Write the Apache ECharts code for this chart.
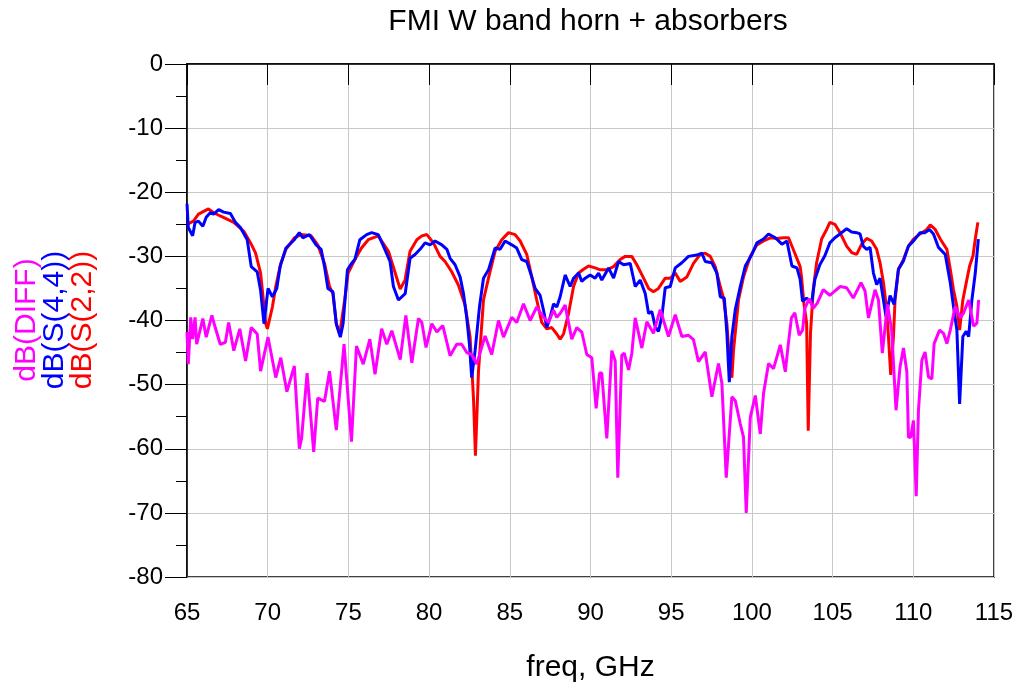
<!DOCTYPE html>
<html><head><meta charset="utf-8">
<script src="https://cdn.jsdelivr.net/npm/echarts@6/dist/echarts.min.js"></script>
<style>html,body{margin:0;padding:0;background:#fff}#c{width:1022px;height:688px}</style>
</head><body><div id="c"></div>
<script>
const chartTitle = 'FMI W band horn + absorbers';
const xAxisName = 'freq, GHz';
const yAxisNames = ['dB(DIFF)', 'dB(S(4,4))', 'dB(S(2,2))'];
const seriesColors = ['#ff00ff', '#0000ff', '#ff0000'];

// [freq GHz, dB]
const s22 = [[65.0,-25.0],[65.4,-24.5],[65.71,-23.4],[66.33,-22.6],[66.65,-23.2],[67.06,-23.7],[67.9,-24.7],[68.52,-26.1],[68.94,-27.9],[69.25,-29.5],[69.56,-32.6],[69.88,-40.5],[69.98,-41.3],[70.29,-37.9],[70.5,-34.7],[70.81,-31.1],[71.13,-28.9],[71.65,-27.1],[72.06,-26.6],[72.69,-26.8],[73.1,-28.2],[73.52,-31.1],[73.83,-34.7],[74.04,-35.8],[74.25,-40.5],[74.46,-42.1],[74.77,-36.8],[74.98,-32.6],[75.4,-30.5],[75.81,-28.7],[76.23,-27.4],[76.85,-26.8],[77.48,-29.2],[77.9,-32.6],[78.21,-35.1],[78.51,-33.7],[78.82,-29.2],[79.24,-27.4],[79.55,-26.8],[79.86,-26.6],[80.27,-27.9],[80.68,-30.0],[80.99,-30.8],[81.4,-32.4],[81.82,-34.5],[82.23,-37.6],[82.54,-42.6],[82.75,-52.1],[82.87,-61.1],[83.06,-47.9],[83.37,-36.8],[83.68,-33.4],[84.09,-29.2],[84.5,-27.4],[84.92,-26.3],[85.33,-26.6],[85.64,-27.6],[86.05,-29.7],[86.36,-33.2],[86.67,-36.8],[86.98,-40.3],[87.29,-41.3],[87.6,-41.1],[87.91,-42.1],[88.12,-42.9],[88.33,-42.1],[88.64,-38.9],[88.95,-34.7],[89.26,-32.6],[89.57,-32.0],[89.88,-31.5],[90.29,-31.8],[90.6,-32.1],[91.01,-32.1],[91.43,-31.6],[91.84,-30.5],[92.15,-30.0],[92.56,-30.0],[92.87,-31.3],[93.29,-33.4],[93.6,-35.0],[93.9,-35.5],[94.21,-35.0],[94.63,-33.4],[94.94,-33.4],[95.25,-32.6],[95.56,-33.9],[95.97,-33.2],[96.38,-31.1],[96.8,-29.7],[97.11,-29.5],[97.42,-30.0],[97.73,-31.6],[98.04,-34.7],[98.24,-36.5],[98.45,-40.5],[98.66,-47.9],[98.76,-48.9],[98.86,-44.7],[99.17,-36.8],[99.48,-33.2],[99.9,-30.0],[100.31,-28.2],[100.72,-27.6],[101.14,-27.1],[101.55,-27.2],[101.96,-27.1],[102.27,-27.1],[102.69,-29.7],[102.99,-31.6],[103.07,-33.1],[103.22,-37.3],[103.39,-40.4],[103.49,-57.2],[103.63,-42.0],[103.8,-35.2],[104.01,-31.0],[104.32,-27.3],[104.63,-25.8],[104.83,-24.7],[105.14,-25.0],[105.46,-26.3],[105.87,-28.4],[106.18,-29.4],[106.49,-29.7],[106.8,-28.1],[107.11,-27.2],[107.42,-27.6],[107.73,-28.9],[107.94,-31.0],[108.15,-34.1],[108.35,-38.3],[108.46,-42.5],[108.6,-48.5],[108.77,-42.5],[108.87,-36.8],[109.08,-32.0],[109.39,-30.5],[109.7,-28.4],[110.01,-27.3],[110.42,-26.5],[110.84,-25.8],[111.05,-25.1],[111.36,-25.8],[111.67,-27.3],[112.08,-28.9],[112.29,-32.0],[112.49,-35.2],[112.7,-37.8],[112.87,-41.5],[113.07,-36.8],[113.28,-34.1],[113.49,-31.5],[113.7,-29.9],[113.84,-27.3],[114.0,-24.7]];

const s44 = [[65.0,-21.8],[65.08,-25.5],[65.35,-26.8],[65.5,-24.7],[65.71,-24.5],[65.98,-25.3],[66.19,-23.9],[66.44,-23.2],[66.65,-23.4],[66.96,-22.7],[67.27,-23.1],[67.69,-23.3],[68.0,-24.7],[68.31,-25.5],[68.73,-27.4],[68.98,-31.6],[69.35,-32.4],[69.56,-35.3],[69.77,-40.5],[69.88,-40.8],[70.02,-35.0],[70.29,-36.3],[70.56,-35.0],[70.77,-31.6],[71.13,-28.7],[71.65,-27.4],[71.96,-26.3],[72.17,-27.1],[72.58,-26.6],[73.0,-28.2],[73.31,-28.9],[73.52,-31.6],[73.73,-35.0],[74.04,-35.5],[74.25,-40.5],[74.5,-42.6],[74.67,-40.5],[74.94,-32.1],[75.19,-31.1],[75.4,-30.5],[75.71,-27.4],[76.13,-26.6],[76.44,-26.3],[76.85,-26.6],[77.17,-28.4],[77.58,-30.8],[77.79,-34.7],[78.1,-36.8],[78.52,-35.8],[78.82,-30.3],[79.13,-29.7],[79.44,-28.9],[79.75,-27.9],[80.06,-28.2],[80.37,-27.6],[80.79,-28.2],[81.1,-28.9],[81.3,-30.3],[81.61,-31.3],[81.92,-33.2],[82.13,-35.8],[82.33,-39.5],[82.5,-43.7],[82.64,-48.9],[82.85,-44.7],[83.12,-37.9],[83.37,-33.4],[83.68,-32.1],[84.09,-28.7],[84.4,-28.9],[84.71,-27.6],[85.12,-28.2],[85.43,-28.7],[85.74,-30.5],[86.05,-30.8],[86.36,-33.2],[86.57,-35.0],[86.88,-36.1],[87.09,-38.4],[87.29,-41.1],[87.5,-39.5],[87.71,-37.4],[87.91,-37.9],[88.12,-36.3],[88.43,-32.9],[88.74,-34.7],[88.95,-33.4],[89.26,-32.6],[89.46,-33.9],[89.67,-33.4],[89.98,-32.9],[90.29,-33.4],[90.5,-32.6],[90.7,-33.7],[91.12,-31.8],[91.43,-33.4],[91.74,-30.8],[92.05,-31.3],[92.46,-31.1],[92.77,-34.7],[93.08,-33.7],[93.39,-35.8],[93.6,-38.9],[93.8,-38.6],[94.01,-41.0],[94.21,-41.7],[94.42,-39.4],[94.63,-34.9],[94.94,-34.7],[95.25,-31.8],[95.66,-31.0],[96.07,-30.0],[96.59,-29.8],[96.9,-29.5],[97.11,-30.8],[97.52,-31.0],[97.83,-32.6],[98.04,-36.3],[98.29,-36.5],[98.45,-42.0],[98.6,-49.6],[98.76,-42.5],[98.97,-38.3],[99.28,-34.7],[99.59,-31.5],[100.0,-29.7],[100.31,-27.9],[100.72,-27.3],[101.03,-26.5],[101.45,-27.1],[101.86,-28.1],[102.17,-27.6],[102.48,-31.5],[102.79,-31.8],[102.99,-33.6],[103.14,-37.0],[103.39,-36.5],[103.7,-37.3],[103.9,-33.6],[104.21,-31.3],[104.52,-29.9],[104.83,-27.9],[105.14,-27.1],[105.46,-26.5],[105.87,-25.7],[106.18,-26.2],[106.49,-26.3],[106.7,-26.5],[106.9,-28.4],[107.11,-28.9],[107.32,-28.6],[107.53,-32.6],[107.73,-34.4],[107.94,-33.4],[108.15,-36.8],[108.31,-39.4],[108.56,-36.1],[108.81,-37.5],[109.08,-32.0],[109.39,-30.7],[109.7,-28.4],[110.01,-27.6],[110.42,-26.3],[110.73,-26.3],[111.0,-25.8],[111.25,-26.5],[111.56,-28.6],[111.98,-29.7],[112.29,-34.1],[112.49,-37.8],[112.7,-41.5],[112.87,-53.0],[113.07,-42.5],[113.28,-41.7],[113.43,-42.5],[113.63,-36.8],[113.84,-32.6],[114.03,-27.3]];

const diff = [[65.0,-41.8],[65.08,-46.8],[65.23,-39.5],[65.35,-42.9],[65.5,-39.5],[65.6,-43.7],[65.98,-39.7],[66.19,-42.6],[66.54,-39.2],[66.75,-41.1],[67.06,-43.7],[67.38,-43.4],[67.58,-40.3],[67.9,-44.7],[68.27,-41.3],[68.63,-46.3],[68.98,-41.1],[69.35,-42.1],[69.56,-47.9],[70.02,-42.6],[70.5,-48.9],[70.81,-45.8],[71.19,-51.1],[71.65,-47.1],[71.96,-60.0],[72.1,-58.4],[72.44,-48.2],[72.85,-60.5],[73.1,-52.1],[73.52,-52.6],[73.83,-47.9],[74.25,-57.1],[74.73,-43.7],[75.19,-58.9],[75.5,-44.0],[75.92,-46.8],[76.33,-42.9],[76.65,-48.4],[77.06,-41.3],[77.38,-43.7],[77.69,-41.6],[78.21,-46.1],[78.56,-39.2],[78.93,-46.6],[79.34,-39.7],[79.55,-40.3],[79.81,-44.2],[80.17,-40.5],[80.48,-41.8],[80.85,-40.8],[81.3,-45.5],[81.71,-43.7],[82.02,-43.7],[82.33,-45.0],[82.64,-45.3],[82.95,-46.8],[83.47,-42.4],[83.88,-45.3],[84.3,-40.0],[84.61,-42.6],[85.12,-39.5],[85.43,-40.3],[85.85,-37.4],[86.26,-40.0],[86.67,-37.9],[87.09,-39.5],[87.4,-40.3],[87.71,-38.4],[87.91,-39.5],[88.12,-38.9],[88.43,-37.6],[88.84,-42.9],[89.15,-41.1],[89.46,-41.8],[89.77,-45.3],[90.08,-45.8],[90.35,-53.7],[90.56,-48.2],[90.7,-48.2],[91.01,-58.4],[91.32,-44.7],[91.53,-46.3],[91.69,-64.5],[91.94,-45.4],[92.09,-45.1],[92.36,-47.7],[92.56,-45.1],[92.77,-39.6],[93.18,-44.3],[93.49,-40.2],[93.9,-42.0],[94.32,-38.3],[94.83,-42.5],[95.25,-39.1],[95.66,-42.5],[96.07,-42.3],[96.38,-43.0],[96.69,-46.4],[97.11,-44.9],[97.52,-51.9],[97.93,-46.7],[98.14,-49.8],[98.41,-64.5],[98.76,-51.9],[98.97,-52.5],[99.28,-56.1],[99.48,-58.2],[99.65,-70.0],[99.9,-55.1],[100.21,-51.7],[100.52,-57.7],[100.72,-51.4],[101.03,-46.7],[101.34,-47.5],[101.76,-43.8],[102.07,-48.0],[102.25,-43.8],[102.45,-39.6],[102.66,-38.8],[102.93,-42.3],[103.14,-41.5],[103.28,-38.1],[103.55,-36.6],[103.8,-38.1],[104.05,-37.3],[104.42,-35.2],[104.83,-36.1],[105.14,-35.4],[105.46,-34.7],[105.87,-34.9],[106.28,-36.5],[106.76,-34.1],[107.01,-35.4],[107.22,-39.6],[107.63,-35.2],[107.84,-36.8],[108.08,-45.1],[108.4,-37.5],[108.66,-41.5],[108.93,-54.0],[109.18,-47.2],[109.39,-44.3],[109.6,-48.0],[109.7,-58.2],[109.84,-58.2],[110.01,-55.6],[110.18,-67.4],[110.32,-54.0],[110.53,-46.2],[110.73,-44.9],[110.94,-48.8],[111.15,-49.1],[111.29,-43.6],[111.63,-41.5],[111.87,-42.0],[112.08,-43.6],[112.29,-41.5],[112.6,-37.8],[112.91,-39.6],[113.12,-38.8],[113.43,-36.8],[113.74,-40.9],[113.94,-40.4],[114.05,-36.8]];

const FONT = '"Liberation Sans", Arial, sans-serif';
const chart = echarts.init(document.getElementById('c'), null, {renderer: 'canvas'});

const yLabelX = [27, 55, 83];
const graphics = [{
  type: 'text', x: 588, y: 22,
  style: {text: chartTitle, fill: '#000', font: '30px ' + FONT, align: 'center', verticalAlign: 'middle'}
}];
yAxisNames.forEach((t, i) => {
  graphics.push({
    type: 'text', x: yLabelX[i], y: 320, rotation: Math.PI / 2,
    style: {text: t, fill: seriesColors[i], font: '30px ' + FONT, align: 'center', verticalAlign: 'middle'}
  });
});

chart.setOption({
  animation: false,
  backgroundColor: '#fff',
  grid: {left: 187, right: 28, top: 64, bottom: 111, show: true, borderColor: '#000', borderWidth: 1.5, backgroundColor: 'transparent'},
  graphic: graphics,
  xAxis: {
    type: 'value', min: 65, max: 115, interval: 5,
    name: xAxisName, nameLocation: 'middle', nameGap: 76,
    nameTextStyle: {fontSize: 30, color: '#000', fontFamily: FONT},
    axisLine: {show: true, lineStyle: {color: '#000', width: 1.5}},
    axisTick: {show: true, inside: false, length: 21, lineStyle: {color: '#000', width: 1}},
    axisLabel: {fontSize: 24, color: '#000', fontFamily: FONT, margin: 24},
    splitLine: {show: true, lineStyle: {color: '#c8c8c8', width: 1}}
  },
  yAxis: {
    type: 'value', min: -80, max: 0, interval: 10,
    axisLine: {show: true, lineStyle: {color: '#000', width: 1.5}},
    axisTick: {show: true, inside: false, length: 22, lineStyle: {color: '#000', width: 1}},
    minorTick: {show: true, splitNumber: 2, length: 11, lineStyle: {color: '#000', width: 1}},
    axisLabel: {fontSize: 24, color: '#000', fontFamily: FONT, margin: 24},
    splitLine: {show: true, lineStyle: {color: '#c8c8c8', width: 1}}
  },
  series: [
    {name: yAxisNames[2], type: 'line', data: s22, showSymbol: false, symbol: 'none', lineStyle: {color: seriesColors[2], width: 3}, itemStyle: {color: seriesColors[2]}},
    {name: yAxisNames[1], type: 'line', data: s44, showSymbol: false, symbol: 'none', lineStyle: {color: seriesColors[1], width: 3}, itemStyle: {color: seriesColors[1]}},
    {name: yAxisNames[0], type: 'line', data: diff, showSymbol: false, symbol: 'none', lineStyle: {color: seriesColors[0], width: 3}, itemStyle: {color: seriesColors[0]}}
  ]
});
</script>
</body></html>
